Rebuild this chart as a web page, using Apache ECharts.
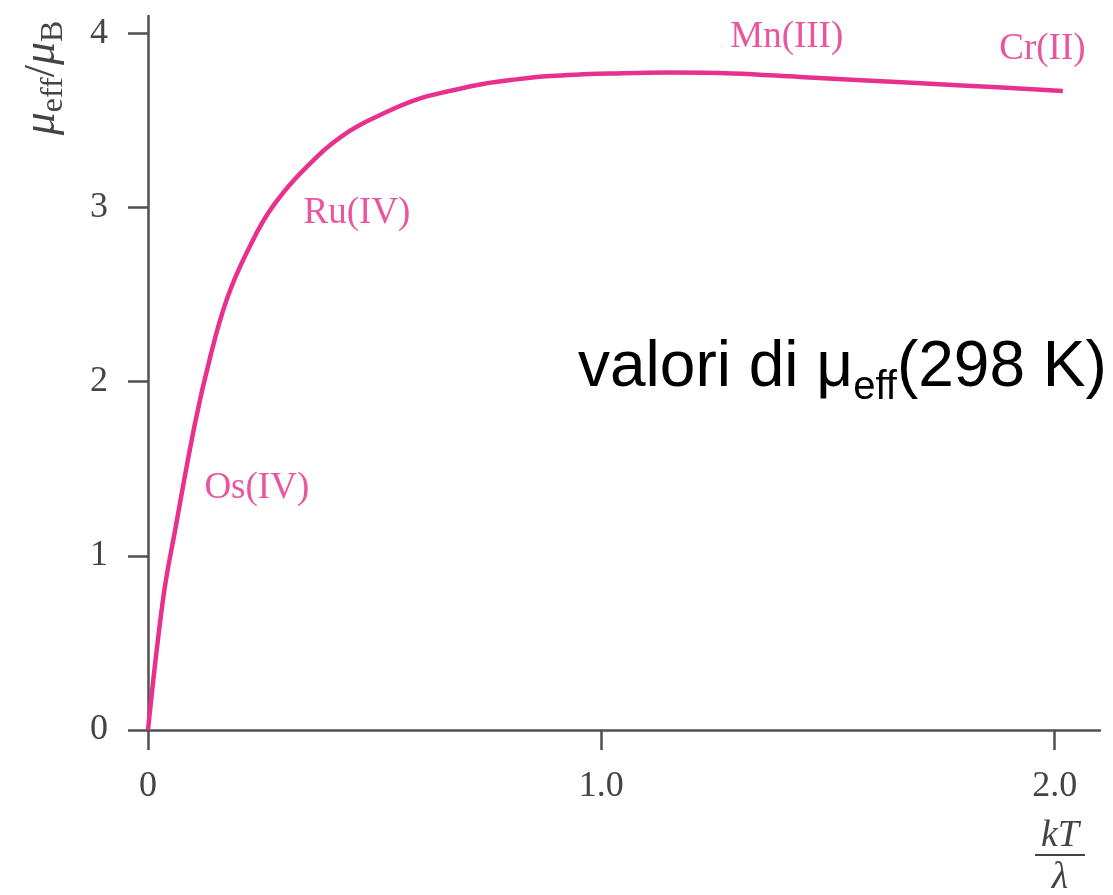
<!DOCTYPE html>
<html>
<head>
<meta charset="utf-8">
<script src="https://cdn.jsdelivr.net/npm/echarts@6/dist/echarts.min.js"></script>
<style>
  html, body { margin: 0; padding: 0; background: #fff; }
  #main { width: 1113px; height: 895px; }
</style>
</head>
<body>
<div id="main"></div>
<script>
// kT/lambda vs mu_eff/mu_B
const kTx = [0, 0.034, 0.060, 0.1036, 0.137, 0.1735, 0.2176, 0.276, 0.372, 0.445, 0.519, 0.592, 0.666, 0.739, 0.813, 0.886, 0.96, 1.019, 1.15, 1.29, 1.438, 1.585, 1.806, 2.018]
const mu = [0, 0.766, 1.15, 1.76, 2.14, 2.47, 2.74, 3.01, 3.29, 3.44, 3.54, 3.62, 3.67, 3.71, 3.736, 3.755, 3.765, 3.77, 3.775, 3.77, 3.75, 3.73, 3.70, 3.67]

// ion labels and where they sit (data coords)
const ionNames = ['Os(IV)', 'Ru(IV)', 'Mn(III)', 'Cr(II)']
const ionX = [0.24, 0.461, 1.409, 1.973]
const ionY = [1.39, 2.97, 3.98, 3.91]

const xTicks = [0, 1, 2]
const yTicks = [0, 1, 2, 3, 4]

const pink = '#e8318e'
const axisCol = '#505050'
const serif = '"Liberation Serif", "DejaVu Serif", serif'

var myChart = echarts.init(document.getElementById('main'))

var option = {
    backgroundColor: '#fff',
    animation: false,
    grid: { left: 148, right: 13, top: 16, bottom: 165, containLabel: false },
    xAxis: {
        type: 'value', min: 0, max: 2.1,
        splitLine: { show: false },
        axisLine: { lineStyle: { color: axisCol, width: 2.5 } },
        axisTick: { length: 20, lineStyle: { color: axisCol, width: 2.5 }, customValues: xTicks },
        axisLabel: {
            customValues: xTicks, margin: 39,
            color: '#444', fontFamily: serif, fontSize: 36,
            formatter: v => v === 0 ? '0' : v.toFixed(1)
        }
    },
    yAxis: {
        type: 'value', min: 0, max: 4.1,
        splitLine: { show: false },
        axisLine: { show: true, lineStyle: { color: axisCol, width: 2.5 } },
        axisTick: { show: true, length: 20, lineStyle: { color: axisCol, width: 2.5 }, customValues: yTicks },
        axisLabel: {
            customValues: yTicks, margin: 40,
            color: '#444', fontFamily: serif, fontSize: 36
        }
    },
    series: [
        {
            type: 'line',
            data: kTx.map((x, i) => [x, mu[i]]),
            smooth: 0.4,
            symbol: 'none',
            lineStyle: { color: pink, width: 4.5 }
        },
        {
            type: 'scatter',
            data: ionNames.map((n, i) => ({ name: n, value: [ionX[i], ionY[i]] })),
            symbolSize: 1,
            itemStyle: { color: 'transparent' },
            silent: true,
            label: {
                show: true, position: 'inside', formatter: '{b}',
                color: '#e42a88', fontFamily: serif, fontSize: 37
            }
        }
    ],
    graphic: [
        {
            // y axis title: mu_eff / mu_B
            type: 'text', x: 42, y: 78, rotation: Math.PI / 2,
            style: {
                text: '{m|μ}{s|eff}{n|/}{m|μ}{s|B}',
                align: 'center', verticalAlign: 'middle',
                fill: '#444',
                rich: {
                    m: { fontFamily: serif, fontStyle: 'italic', fontSize: 46, lineHeight: 56, fill: '#444' },
                    n: { fontFamily: serif, fontSize: 44, lineHeight: 56, fill: '#444' },
                    s: { fontFamily: serif, fontSize: 32, lineHeight: 32, verticalAlign: 'bottom', fill: '#444' }
                }
            }
        },
        {
            type: 'text', x: 1060, y: 836,
            style: { text: 'kT', fontFamily: serif, fontStyle: 'italic', fontSize: 38, fill: '#444', align: 'center', verticalAlign: 'middle' }
        },
        {
            type: 'line', shape: { x1: 1035, y1: 855, x2: 1085, y2: 855 },
            style: { stroke: '#444', lineWidth: 2 }
        },
        {
            type: 'text', x: 1060, y: 878,
            style: { text: 'λ', fontFamily: serif, fontStyle: 'italic', fontSize: 38, fill: '#444', align: 'center', verticalAlign: 'middle' }
        },
        {
            // big caption
            type: 'text', x: 578, y: 368,
            style: {
                text: '{a|valori di μ}{s|eff}{a|(298 K)}',
                align: 'left', verticalAlign: 'middle',
                rich: {
                    a: { fontFamily: '"Liberation Sans", Arial, sans-serif', fontSize: 64, lineHeight: 80, fill: '#000' },
                    s: { fontFamily: '"Liberation Sans", Arial, sans-serif', fontSize: 40, lineHeight: 40, verticalAlign: 'bottom', fill: '#000' }
                }
            }
        }
    ]
}

myChart.setOption(option)
</script>
</body>
</html>
